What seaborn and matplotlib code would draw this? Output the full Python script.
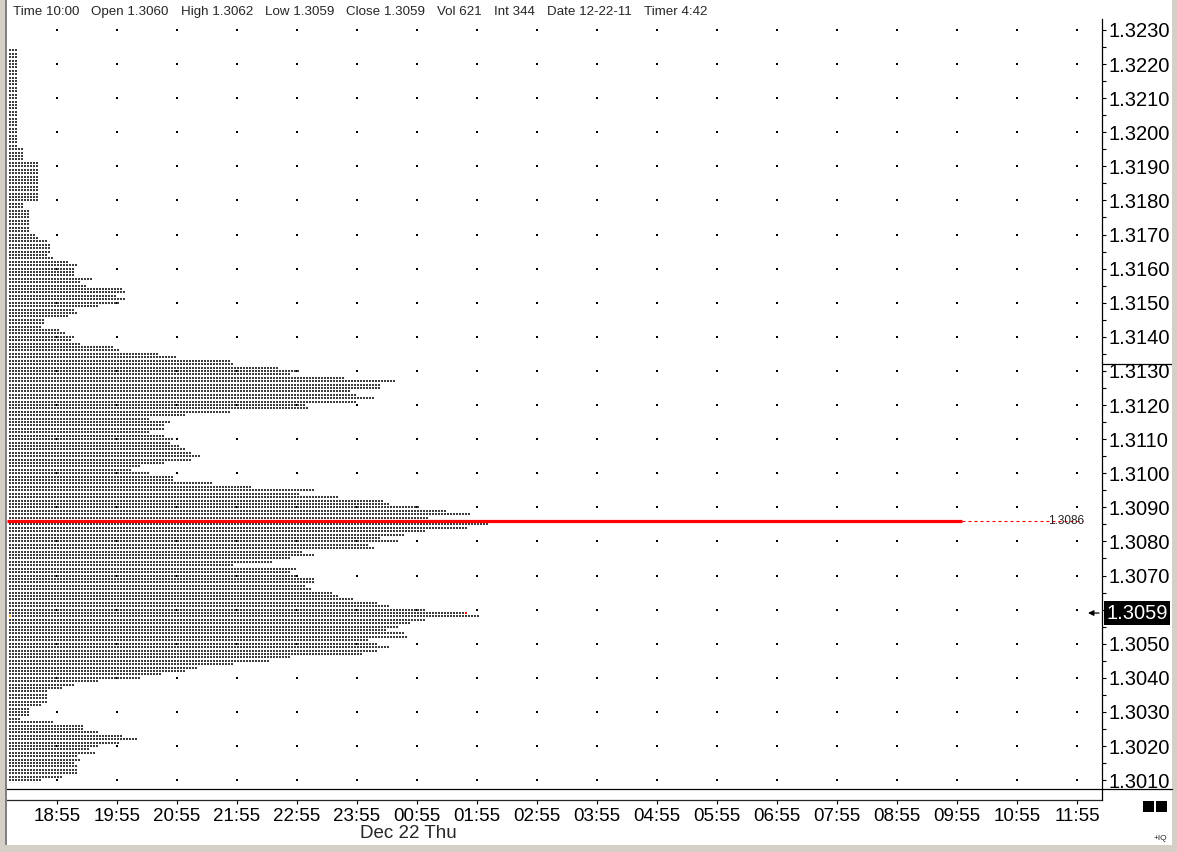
import numpy as np
import pandas as pd
import matplotlib
matplotlib.use("Agg")
import matplotlib.pyplot as plt
import seaborn as sns
from matplotlib.lines import Line2D
from matplotlib.patches import Rectangle
from matplotlib.transforms import blended_transform_factory

# ---------------- data ----------------
top_price = 1.3224          # highest traded price level
price_step = 0.0001         # one pip per profile row
tpo_counts = [
    3, 3, 3, 3, 3, 3, 3, 3, 3, 3, 3, 3, 3, 3, 3, 3, 3, 3, 3, 3,
    3, 3, 3, 3, 3, 3, 3, 3, 3, 5, 5, 5, 5, 10, 10, 10, 10, 10, 10, 10,
    10, 10, 10, 10, 10, 5, 5, 7, 7, 7, 7, 7, 7, 7, 9, 10, 13, 14, 14, 14,
    13, 15, 20, 23, 22, 22, 22, 28, 24, 26, 38, 39, 36, 39, 37, 30, 22, 23, 20, 12,
    12, 11, 17, 19, 22, 21, 24, 35, 37, 50, 56, 74, 75, 90, 97, 94, 112, 129, 124, 124,
    114, 116, 122, 116, 99, 100, 74, 59, 47, 54, 52, 52, 47, 52, 55, 54, 57, 59, 61, 64,
    61, 52, 44, 41, 47, 55, 55, 68, 81, 102, 97, 110, 125, 127, 137, 146, 154, 140, 162, 160,
    153, 139, 132, 124, 130, 120, 122, 98, 102, 94, 88, 75, 96, 94, 96, 102, 102, 99, 101, 108,
    110, 115, 123, 127, 139, 153, 157, 139, 134, 130, 126, 132, 133, 120, 123, 127, 123, 118, 94, 87,
    75, 63, 59, 51, 44, 30, 22, 18, 13, 13, 13, 13, 11, 7, 7, 7, 4, 15, 25, 25,
    30, 38, 43, 37, 30, 27, 29, 23, 24, 22, 23, 23, 23, 18, 11,
]
price_levels = [round(top_price - i * price_step, 4) for i in range(len(tpo_counts))]

time_labels = ["18:55", "19:55", "20:55", "21:55", "22:55", "23:55", "00:55", "01:55", "02:55",
               "03:55", "04:55", "05:55", "06:55", "07:55", "08:55", "09:55", "10:55", "11:55"]
price_ticks = [1.3010, 1.3020, 1.3030, 1.3040, 1.3050, 1.3060, 1.3070, 1.3080, 1.3090, 1.3100,
               1.3110, 1.3120, 1.3130, 1.3140, 1.3150, 1.3160, 1.3170, 1.3180, 1.3190, 1.3200,
               1.3210, 1.3220, 1.3230]
poc_price = 1.3086
close_price = 1.3059
open_mark_price = 1.3058
marker_level = 1.3132
session_start_h = -0.8      # hours relative to 18:55
cell_h = 0.05               # hours per TPO cell (3 min)
now_h = 15 + 5 / 60         # 10:00
header_fields = ["Time 10:00", "Open 1.3060", "High 1.3062", "Low 1.3059", "Close 1.3059",
                 "Vol 621", "Int 344", "Date 12-22-11", "Timer 4:42"]
date_label = "Dec 22 Thu"

# ---------------- build cells ----------------
cells = []
for p, n in zip(price_levels, tpo_counts):
    for i in range(n):
        cells.append((session_start_h + cell_h * (i + 1 / 3), p))
df = pd.DataFrame(cells, columns=["time", "price"])

# ---------------- figure ----------------
sns.set_style("white")
plt.rcParams["font.family"] = ["Liberation Sans", "DejaVu Sans"]

W, H = 1177, 852
fig = plt.figure(figsize=(W / 100, H / 100), dpi=100, facecolor="white")

def fx(px):
    return px / W

def fy(py):
    return 1 - py / H

ax_l, ax_r, ax_t, ax_b = 7, 1102, 19, 789
ax = fig.add_axes([fx(ax_l), fy(ax_b), (ax_r - ax_l) / W, (ax_b - ax_t) / H])
ax.set_facecolor("white")

x0 = (ax_l - 57) / 60
x1 = (ax_r - 57) / 60
ax.set_xlim(x0, x1)
ax.set_ylim(1.30074, 1.32332)

# grid dots at hour / price-tick intersections
gx, gy = np.meshgrid(np.arange(len(time_labels)), price_ticks)
ax.scatter(gx.ravel(), gy.ravel(), s=0.6, marker="s", color="black", linewidths=0, zorder=1)

# profile cells
sns.scatterplot(data=df, x="time", y="price", marker="s", s=3.4, color="#3d3d3d",
                linewidth=0, ax=ax, legend=False, zorder=3)

# close / open markers on profile
close_n = tpo_counts[price_levels.index(close_price)]
ax.scatter([session_start_h + cell_h * (close_n - 1 + 1 / 3)], [close_price], s=3.4,
           marker="s", color="red", linewidths=0, zorder=4)
ax.scatter([session_start_h + cell_h * (1 / 3)], [open_mark_price], s=3.4,
           marker="s", color="#ff9900", linewidths=0, zorder=4)

# POC line
ax.axhline(poc_price, xmin=0, xmax=(now_h - x0) / (x1 - x0), color="#ff0000", lw=2.3,
           solid_capstyle="butt", zorder=5)
lbl_x = (1048 - 57) / 60
lbl_end = (1083 - 57) / 60
ax.plot([now_h, lbl_end], [poc_price, poc_price], color="#ff0000", lw=0.8,
        dashes=[2.7, 2.7], zorder=5)
ax.text(lbl_x, poc_price, f"{poc_price:.4f}", fontsize=8.5, color="#222222",
        va="center", ha="left", zorder=6)

# axes styling
ax.set_xlabel("")
ax.set_ylabel("")
ax.set_xticks([])
for s in ["top", "left"]:
    ax.spines[s].set_visible(False)
for s in ["right", "bottom"]:
    ax.spines[s].set_color("black")
    ax.spines[s].set_linewidth(0.9)

ax.yaxis.tick_right()
ax.set_yticks(price_ticks)
ax.set_yticklabels(["" if abs(p - 1.3060) < 1e-9 else f"{p:.4f}" for p in price_ticks])
ax.set_yticks([p + 0.0005 for p in price_ticks[:-1]], minor=True)
ax.tick_params(axis="y", which="both", direction="out", length=2.6, width=0.8,
               colors="black", labelsize=14.5, pad=2.2, right=True, left=False)

# time axis
sec = ax.secondary_xaxis(-11 / (ax_b - ax_t))
sec.set_xticks(range(len(time_labels)))
sec.set_xticklabels(time_labels)
sec.tick_params(axis="x", direction="out", length=3, width=0.8, labelsize=13.5, pad=2.5,
                colors="black")
sec.spines["bottom"].set_linewidth(0.9)
fig.text(fx(408), fy(833), date_label, fontsize=13.5, ha="center", va="center")

# current price box and arrow
trans = blended_transform_factory(ax.transAxes, ax.transData)
ax.text(1 + 4 / (ax_r - ax_l), close_price, f"{close_price:.4f}", transform=trans,
        fontsize=14.5, color="white", va="center", ha="left", clip_on=False,
        bbox=dict(boxstyle="square,pad=0.12", fc="black", ec="none"), zorder=10)
ax.annotate("", xy=(1 - 14 / (ax_r - ax_l), close_price), xytext=(1 - 3 / (ax_r - ax_l), close_price),
            xycoords=trans, textcoords=trans,
            arrowprops=dict(arrowstyle="-|>", color="black", lw=0.9, mutation_scale=8,
                            shrinkA=0, shrinkB=0))
ax.add_line(Line2D([1, (1172 - ax_l) / (ax_r - ax_l)], [marker_level, marker_level],
                   transform=trans, color="black", lw=0.9, clip_on=False))

# header: fields laid out left to right with a fixed gap
fig.canvas.draw()
renderer = fig.canvas.get_renderer()
hx = 13
for txt in header_fields:
    t = fig.text(fx(hx), fy(12), txt, fontsize=9.6, ha="left", va="center")
    hx += t.get_window_extent(renderer).width + 12

# frame / window chrome
fig.add_artist(Line2D([fx(ax_r), fx(ax_r)], [fy(ax_b), fy(800)], color="black", lw=0.9))
fig.add_artist(Line2D([fx(ax_r), fx(1172)], [fy(ax_b), fy(ax_b)], color="black", lw=0.9))
for (rx, ry, rw, rh, c) in [(0, 0, 5, H, "#d4d0c8"), (5, 0, 1.5, H, "#808080"),
                            (1172, 0, 5, H, "#d4d0c8"), (0, 845, W, 7, "#d4d0c8")]:
    fig.add_artist(Rectangle((fx(rx), fy(ry + rh)), rw / W, rh / H, transform=fig.transFigure,
                             fc=c, ec="none"))
for rx in [1143, 1156]:
    fig.add_artist(Rectangle((fx(rx), fy(812)), 11 / W, 11 / H, transform=fig.transFigure,
                             fc="black", ec="none"))
fig.text(fx(1160), fy(839), "+IQ", fontsize=6, ha="center", va="center")

fig.savefig("out.png", dpi=100, facecolor="white")
